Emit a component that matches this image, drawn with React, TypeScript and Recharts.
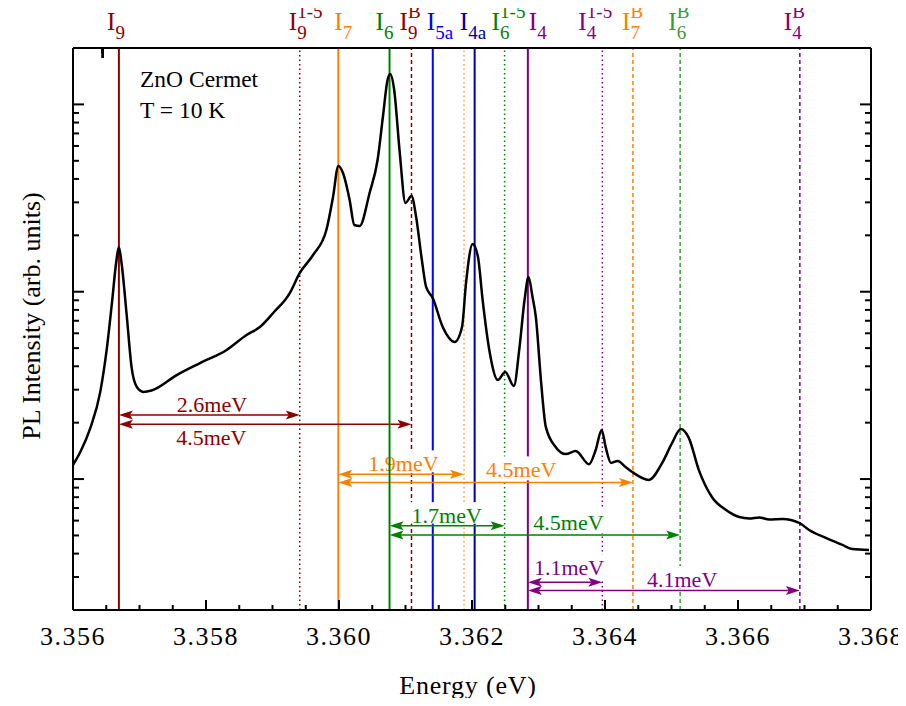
import { ComposedChart, Line, XAxis, YAxis, ReferenceLine } from 'recharts';

const FONT = "'Liberation Serif', 'Times New Roman', serif";

// PL spectrum: photon energy (eV) and intensity (arb. units)
const energy = [
  3.356, 3.35611, 3.35626, 3.35641, 3.35651, 3.35659, 3.35665, 3.35669, 3.35673, 3.35681,
  3.35688, 3.35696, 3.35706, 3.35718, 3.35756, 3.35791, 3.35831, 3.35861, 3.35881, 3.35901,
  3.35926, 3.35941, 3.35961, 3.35981, 3.35991, 3.35999, 3.36006, 3.36016, 3.36023, 3.36031,
  3.36046, 3.36058, 3.36066, 3.36073, 3.36077, 3.36083, 3.36091, 3.361, 3.36109, 3.36116,
  3.36124, 3.36131, 3.36141, 3.36156, 3.36174, 3.36185, 3.36191, 3.36201, 3.36209, 3.36216,
  3.36226, 3.36239, 3.3625, 3.36263, 3.36271, 3.36279, 3.36285, 3.36291, 3.36296, 3.36304,
  3.36311, 3.36326, 3.36341, 3.36356, 3.36376, 3.36386, 3.36395, 3.36401, 3.36409, 3.36419,
  3.36431, 3.36441, 3.36466, 3.36486, 3.36501, 3.36514, 3.36526, 3.36541, 3.36561, 3.36582,
  3.36602, 3.36617, 3.36632, 3.36647, 3.36667, 3.36692, 3.36707, 3.36732, 3.36757, 3.36772,
  3.36797,
];
const intensity = [
  119, 139.5, 187, 292, 501, 903, 1441, 1733, 1423, 733,
  397, 310, 292, 297, 359, 416, 489, 588, 648, 770,
  984, 1259, 1570, 2135, 3203, 4691, 4302, 3087, 2271, 2243,
  3365, 5049, 8563, 13495, 14530, 11935, 5708, 2976, 3243, 2505,
  1532, 1060, 926, 648, 539, 648, 1113, 1798, 1532, 903,
  489, 338, 373, 314, 489, 903, 1198, 937, 733, 326,
  190, 148, 136, 141, 120, 143, 183, 148, 122, 125,
  116, 109, 99, 122, 156, 185, 166, 112, 80, 68.4,
  62.7, 61.6, 62.4, 60.8, 61.2, 58.3, 53.5, 48.5, 44.5, 42.3,
  41.8,
];
const spectrum = energy.map((e, i) => ({ energy: e, intensity: intensity[i] }));

// bound-exciton lines and their replicas
const peakEnergy = [
  3.35669, 3.35941, 3.35999, 3.36076, 3.36109, 3.36141, 3.36188,
  3.36204, 3.36249, 3.36284, 3.36396, 3.36442, 3.36513, 3.36693,
];
const peakSub = ['9', '9', '7', '6', '9', '5a', '', '4a', '6', '4', '4', '7', '6', '4'];
const peakSup = ['', '1-5', '', '', 'B', '', '', '', '1-5', '', '1-5', 'B', 'B', 'B'];

// separations between lines (meV)
const gapFrom = [3.35669, 3.35669, 3.35999, 3.35999, 3.36076, 3.36076, 3.36284, 3.36284];
const gapTo = [3.35941, 3.36109, 3.36188, 3.36442, 3.36249, 3.36513, 3.36396, 3.36693];
const gapText = ['2.6meV', '4.5meV', '1.9meV', '4.5meV', '1.7meV', '4.5meV', '1.1meV', '4.1meV'];

const xMajor = [3.356, 3.358, 3.36, 3.362, 3.364, 3.366, 3.368];
const xTickLabels = ['3.356', '3.358', '3.360', '3.362', '3.364', '3.366', '3.368'];
const xTicks = xMajor
  .slice(0, -1)
  .flatMap((v) => [0, 0.0005, 0.001, 0.0015].map((d) => +(v + d).toFixed(4)))
  .concat(3.368);
const yMajor = [100, 1000, 10000];
const yTicks = [10, 100, 1000, 10000]
  .flatMap((d) => [1, 2, 3, 4, 5, 6, 7, 8, 9].map((k) => k * d))
  .filter((v) => v >= 20 && v <= 20000);

// styling
const DR = '#8B0000';
const OR = '#FF8000';
const GR = '#008000';
const PU = '#800080';
const SOLID = '';
const DOT = '1.5 3';
const DASH = '4 3';
const peakColor = [DR, DR, OR, GR, DR, '#0000FF', '#FFA040', '#0000A0', GR, PU, PU, OR, '#3C9A3C', PU];
const peakDash = [SOLID, DOT, SOLID, SOLID, DASH, SOLID, DOT, SOLID, DOT, SOLID, DOT, DASH, DASH, DASH];
const tagDx = [-12, -11, -4, -14, -12, -6, 0, -15, -13, 1, -24, -11, -12, -16];
const gapColor = [DR, DR, OR, OR, GR, GR, PU, PU];
const gapLevel = [220, 196, 106, 96, 56.4, 50.3, 28.1, 25.4];
const gapTextAt = [3.35809, 3.35808, 3.36097, 3.36274, 3.36162, 3.36345, 3.36346, 3.36516];
const gapTextDy = [-3, 21, -3, -5, -2.5, -5, -7, -3.5];

const isMajor = (v: number, list: number[]) => list.some((m) => Math.abs(m - v) < 1e-7);

function XTick({ x, y, payload, side }: any) {
  const major = isMajor(payload.value, xMajor);
  const len = major ? 10 : 5;
  const dir = side === 'top' ? 1 : -1;
  const idx = xMajor.findIndex((m) => Math.abs(m - payload.value) < 1e-7);
  return (
    <g>
      <line x1={x} x2={x} y1={y} y2={y + dir * len} stroke="#000" strokeWidth={2} />
      {side === 'bottom' && major && (
        <text
          x={x}
          y={y + 35}
          textAnchor="middle"
          fontFamily={FONT}
          fontSize={26}
          letterSpacing={1.5}
          fill="#000"
        >
          {xTickLabels[idx]}
        </text>
      )}
    </g>
  );
}

function YTick({ x, y, payload, side }: any) {
  const len = isMajor(payload.value, yMajor) ? 11 : 6;
  const dir = side === 'left' ? 1 : -1;
  return <line x1={x} x2={x + dir * len} y1={y} y2={y} stroke="#000" strokeWidth={2} />;
}

function PeakTag({ viewBox, sub, sup, color, dx }: any) {
  if (!viewBox || !sub) return null;
  const x = viewBox.x + dx;
  const top = viewBox.y;
  return (
    <g fontFamily={FONT} fill={color}>
      <text x={x} y={top - 18} fontSize={25}>I</text>
      <text x={x + 8.5} y={top - 9} fontSize={19}>{sub}</text>
      {sup && <text x={x + 8.5} y={top - 30} fontSize={19}>{sup}</text>}
    </g>
  );
}

function GapArrow(props: any) {
  const { x1, y1, x2, i } = props;
  const color = gapColor[i];
  const text = gapText[i];
  const cx = x1 + ((gapTextAt[i] - gapFrom[i]) / (gapTo[i] - gapFrom[i])) * (x2 - x1);
  const base = y1 + gapTextDy[i];
  const w = text.length * 12 + 4;
  const above = gapTextDy[i] < 0;
  const rTop = above ? base - 21 : Math.max(base - 21, y1 + 2);
  const rBot = above ? Math.min(base + 4, y1 - 2) : base + 4;
  const h = 4.5;
  const L = 14;
  return (
    <g>
      <rect x={cx - w / 2} y={rTop} width={w} height={rBot - rTop} fill="#fff" />
      <text x={cx} y={base} textAnchor="middle" fontFamily={FONT} fontSize={22} fill={color}>
        {text}
      </text>
      <line x1={x1 + 8} x2={x2 - 8} y1={y1} y2={y1} stroke={color} strokeWidth={1.5} />
      <polygon
        points={`${x1},${y1} ${x1 + L},${y1 - h} ${x1 + L - 3},${y1} ${x1 + L},${y1 + h}`}
        fill={color}
      />
      <polygon
        points={`${x2},${y1} ${x2 - L},${y1 - h} ${x2 - L + 3},${y1} ${x2 - L},${y1 + h}`}
        fill={color}
      />
    </g>
  );
}

function XTitle({ viewBox }: any) {
  if (!viewBox) return null;
  return (
    <text
      x={viewBox.x + viewBox.width / 2 - 4}
      y={viewBox.y + 84}
      textAnchor="middle"
      fontFamily={FONT}
      fontSize={26}
      letterSpacing={0.8}
      fill="#000"
    >
      Energy (eV)
    </text>
  );
}

function YTitle({ viewBox }: any) {
  if (!viewBox) return null;
  const x = viewBox.x - 32;
  const y = viewBox.y + viewBox.height / 2 - 13;
  return (
    <text
      x={x}
      y={y}
      transform={`rotate(-90 ${x} ${y})`}
      textAnchor="middle"
      fontFamily={FONT}
      fontSize={26}
      fill="#000"
    >
      PL Intensity (arb. units)
    </text>
  );
}

function SampleNote({ viewBox }: any) {
  if (!viewBox) return null;
  return (
    <g fontFamily={FONT} fontSize={23.5} fill="#000">
      <text x={viewBox.x + 67} y={viewBox.y + 40}>ZnO Cermet</text>
      <text x={viewBox.x + 67} y={viewBox.y + 71}>T = 10 K</text>
    </g>
  );
}

const peakLine = (i: number) => (
  <ReferenceLine
    key={`peak-${i}`}
    x={peakEnergy[i]}
    stroke={peakColor[i]}
    strokeWidth={peakDash[i] ? 1.5 : 2}
    strokeDasharray={peakDash[i] || undefined}
    label={<PeakTag sub={peakSub[i]} sup={peakSup[i]} color={peakColor[i]} dx={tagDx[i]} />}
  />
);

export default function App() {
  const axisLine = { stroke: '#000', strokeWidth: 2 };
  return (
    <div style={{ margin: -8, width: 906, height: 706, background: '#fff' }}>
      <ComposedChart
        width={906}
        height={706}
        data={spectrum}
        margin={{ top: 47, right: 34, bottom: 95, left: 72 }}
      >
        <XAxis
          dataKey="energy"
          type="number"
          domain={[3.356, 3.368]}
          allowDataOverflow
          ticks={xTicks}
          interval={0}
          height={1}
          tickSize={0}
          tickMargin={0}
          tickLine={false}
          axisLine={axisLine}
          tick={(p: any) => <XTick {...p} side="bottom" />}
          label={<XTitle />}
        />
        <XAxis
          xAxisId="top"
          orientation="top"
          type="number"
          domain={[3.356, 3.368]}
          allowDataOverflow
          ticks={xTicks}
          interval={0}
          height={1}
          tickSize={0}
          tickMargin={0}
          tickLine={false}
          axisLine={axisLine}
          tick={(p: any) => <XTick {...p} side="top" />}
          label={<SampleNote />}
        />
        <YAxis
          scale="log"
          type="number"
          domain={[20, 20000]}
          allowDataOverflow
          ticks={yTicks}
          interval={0}
          width={1}
          tickSize={0}
          tickMargin={0}
          tickLine={false}
          axisLine={axisLine}
          tick={(p: any) => <YTick {...p} side="left" />}
          label={<YTitle />}
        />
        <YAxis
          yAxisId="right"
          orientation="right"
          scale="log"
          type="number"
          domain={[20, 20000]}
          allowDataOverflow
          ticks={yTicks}
          interval={0}
          width={1}
          tickSize={0}
          tickMargin={0}
          tickLine={false}
          axisLine={axisLine}
          tick={(p: any) => <YTick {...p} side="right" />}
        />
        {peakEnergy.map((_, i) => (i === 3 ? null : peakLine(i)))}
        {gapText.map((_, i) => (
          <ReferenceLine
            key={`gap-${i}`}
            segment={[
              { x: gapFrom[i], y: gapLevel[i] },
              { x: gapTo[i], y: gapLevel[i] },
            ]}
            stroke={gapColor[i]}
            shape={(p: any) => <GapArrow {...p} i={i} />}
          />
        ))}
        {peakLine(3)}
        <Line
          dataKey="intensity"
          type="monotone"
          stroke="#000"
          strokeWidth={2.5}
          dot={false}
          activeDot={false}
          isAnimationActive={false}
        />
      </ComposedChart>
    </div>
  );
}
